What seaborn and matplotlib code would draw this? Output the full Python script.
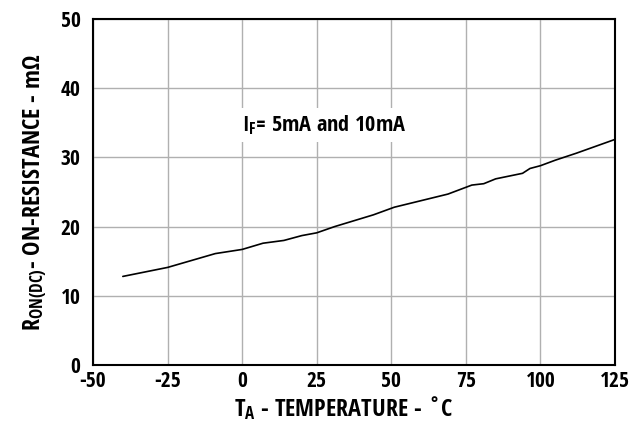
import matplotlib
matplotlib.use("Agg")
import matplotlib.pyplot as plt
import seaborn as sns
import pandas as pd

temperature = [-40, -25, -9, 0, 7, 14, 20, 25, 31, 44, 51, 69, 77, 81, 85, 94, 96.5, 100, 105, 112, 125]
resistance = [12.8, 14.1, 16.1, 16.7, 17.6, 18.0, 18.7, 19.1, 20.0, 21.7, 22.8, 24.7, 26.0, 26.2, 26.9, 27.7, 28.4, 28.8, 29.6, 30.6, 32.6]
x_ticks = [-50, -25, 0, 25, 50, 75, 100, 125]
x_tick_labels = ["-50", "-25", "0", "25", "50", "75", "100", "125"]
y_ticks = [0, 10, 20, 30, 40, 50]
y_tick_labels = ["0", "10", "20", "30", "40", "50"]

sns.set_theme(style="white")
FONT = ["Open Sans Condensed", "DejaVu Sans"]
plt.rcParams["font.family"] = FONT
plt.rcParams["mathtext.fontset"] = "custom"
plt.rcParams["mathtext.rm"] = "Open Sans Condensed:bold"
plt.rcParams["mathtext.it"] = "Open Sans Condensed:bold"
plt.rcParams["mathtext.bf"] = "Open Sans Condensed:bold"

df = pd.DataFrame({"T": temperature, "R": resistance})

fig = plt.figure(figsize=(6.32, 4.25), dpi=100)
ax = fig.add_axes([93 / 632, 60 / 425, 522 / 632, 346 / 425])
sns.lineplot(data=df, x="T", y="R", ax=ax, color="black", linewidth=1.2)

ax.set_xlim(-50, 125)
ax.set_ylim(0, 50)
ax.set_xticks(x_ticks)
ax.set_xticklabels(x_tick_labels)
ax.set_yticks(y_ticks)
ax.set_yticklabels(y_tick_labels)
ax.grid(True, color="#b0b0b0", linewidth=1.0)
ax.set_axisbelow(True)
for s in ax.spines.values():
    s.set_color("black")
    s.set_linewidth(1.5)
ax.tick_params(axis="x", length=0, labelsize=15.5, pad=4, labelcolor="black")
ax.tick_params(axis="y", length=0, labelsize=15.5, pad=9, labelcolor="black")
for lbl in ax.get_xticklabels() + ax.get_yticklabels():
    lbl.set_fontweight("bold")

ax.set_xlabel(r"T$_{\mathrm{A}}$ - TEMPERATURE - ˚C", fontsize=17.5, fontweight="bold", labelpad=4, color="black")
ax.xaxis.set_label_coords(0.48, -0.085)
ax.set_ylabel(r"R$_{\mathrm{ON(DC)}}$- ON-RESISTANCE - mΩ", fontsize=17.5, fontweight="bold", labelpad=8, color="black")

ax.text(0, 34.7, r"I$_{\mathrm{F}}$= 5mA and 10mA", fontsize=16, fontweight="bold",
        ha="left", va="center", color="black",
        bbox=dict(facecolor="white", edgecolor="none", pad=4))

fig.savefig("out.png", dpi=100)
